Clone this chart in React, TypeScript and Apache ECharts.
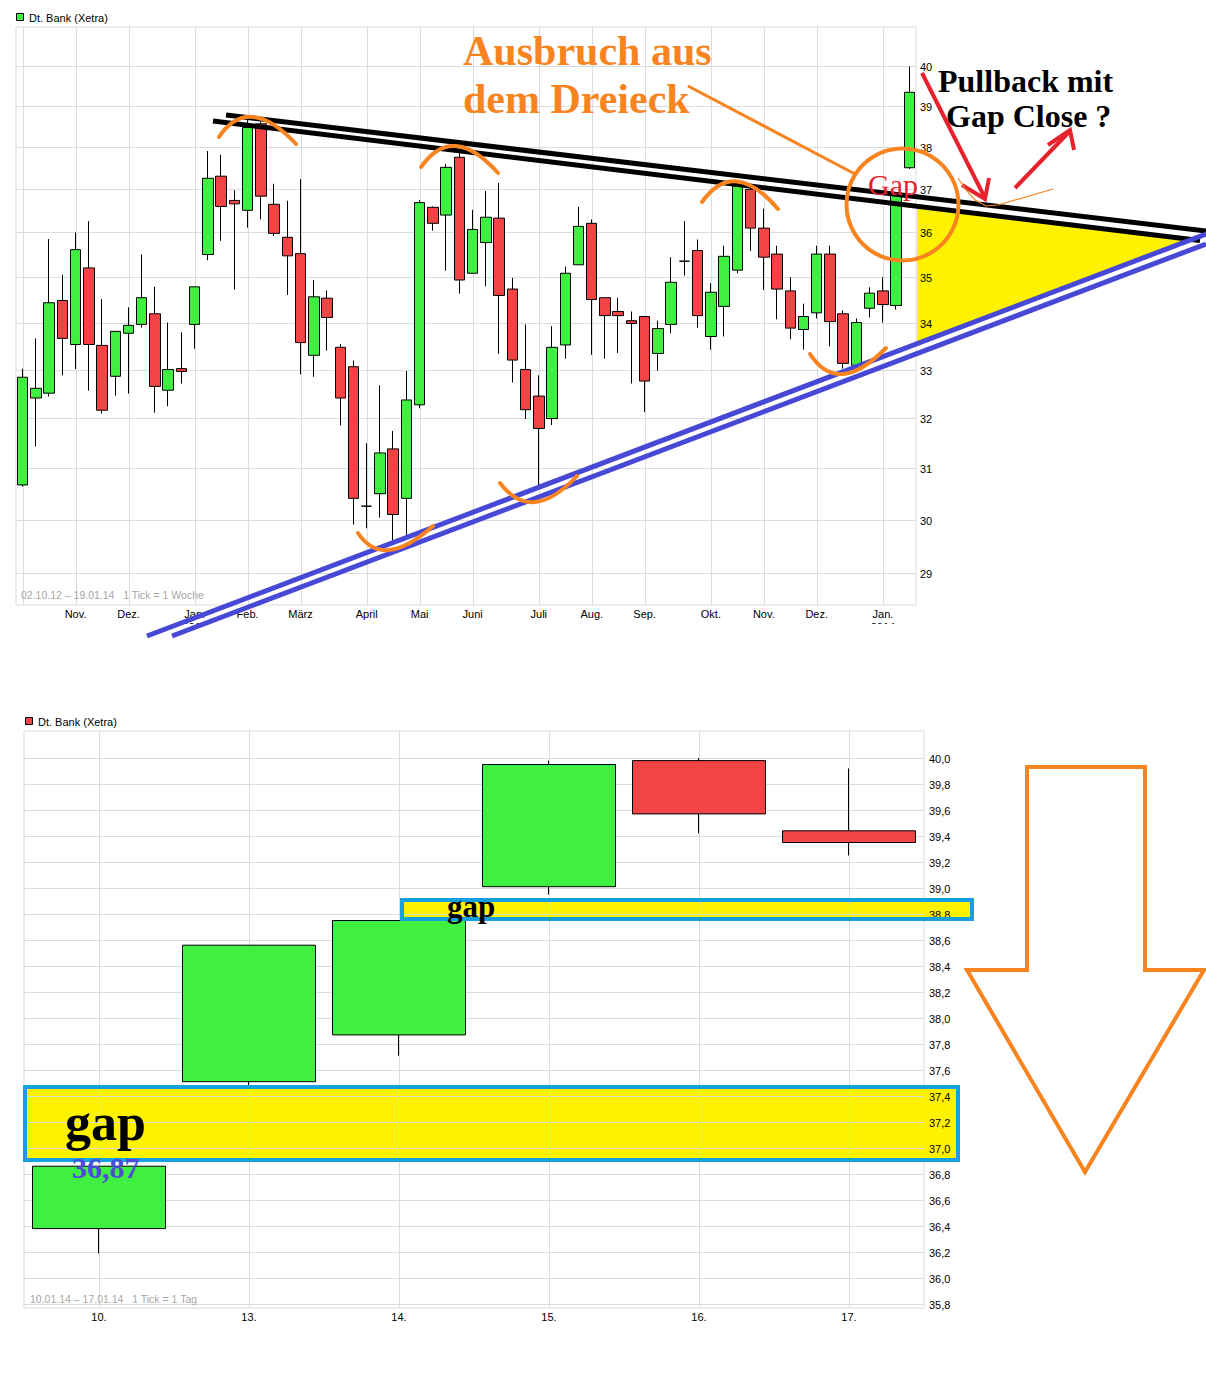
import React, { useEffect, useRef } from 'react';
import * as echarts from 'echarts';

// ---------- Top chart: weekly candles, 02.10.12 – 19.01.14 ----------
const weeklyOpen = [
  30.67, 32.41, 32.51, 34.48, 33.53, 35.2, 33.51, 32.86, 33.77, 33.96,
  34.19, 32.57, 33.02, 33.96, 35.5, 37.31, 36.74, 36.51, 38.57, 36.65,
  35.89, 35.52, 33.3, 34.53, 33.47, 33.06, 30.26, 30.5, 31.38, 30.41,
  32.27, 36.58, 36.4, 37.76, 35.08, 35.77, 36.33, 34.73, 33.0, 32.45,
  31.99, 33.52, 35.27, 36.21, 34.54, 34.24, 34.04, 34.13, 33.34, 33.96,
  35.35, 35.59, 33.7, 34.35, 35.15, 37.0, 36.1, 35.51, 34.69, 33.85,
  34.21, 35.51, 34.19, 33.09, 34.31, 34.69, 34.37, 37.51,
];
const weeklyClose = [
  32.84, 32.61, 34.43, 33.66, 35.61, 33.53, 32.16, 33.81, 33.94, 34.54,
  32.65, 33.0, 32.96, 34.78, 37.26, 36.6, 36.66, 38.48, 36.84, 35.98,
  35.47, 33.57, 34.56, 34.11, 32.41, 30.41, 30.26, 31.3, 30.1, 32.37,
  36.69, 36.21, 37.52, 34.93, 36.07, 36.35, 34.59, 33.2, 32.17, 31.79,
  33.47, 35.08, 36.14, 34.5, 34.15, 34.15, 33.98, 32.76, 33.87, 34.88,
  35.35, 34.15, 34.66, 35.46, 37.08, 36.1, 35.44, 34.73, 33.88, 34.13,
  35.51, 34.02, 33.13, 34.0, 34.64, 34.39, 36.87, 39.35,
];
const weeklyLow = [
  30.64, 31.43, 32.44, 32.88, 33.01, 32.56, 32.09, 32.46, 32.5, 33.89,
  32.11, 32.24, 32.71, 33.44, 35.37, 35.81, 34.72, 36.11, 36.3, 35.92,
  34.6, 32.9, 32.85, 33.4, 31.85, 29.91, 29.84, 30.04, 29.6, 29.69,
  32.2, 36.04, 35.14, 34.63, 35.08, 34.79, 33.33, 32.73, 31.98, 30.58,
  31.86, 33.23, 35.27, 33.31, 33.23, 33.35, 32.71, 32.12, 32.98, 33.77,
  35.03, 33.89, 33.42, 33.7, 35.08, 35.58, 34.71, 34.07, 33.64, 33.42,
  34.09, 33.49, 33.02, 33.05, 34.11, 34.0, 34.28, 37.48,
];
const weeklyHigh = [
  33.02, 33.66, 35.85, 35.05, 36.0, 36.26, 34.51, 33.81, 34.33, 35.5,
  34.78, 34.0, 33.79, 34.78, 37.91, 37.82, 36.98, 38.66, 38.62, 37.13,
  36.73, 37.24, 34.93, 34.7, 33.54, 33.19, 31.49, 32.67, 31.74, 32.97,
  36.75, 36.6, 37.6, 37.9, 36.52, 36.96, 37.15, 34.98, 33.96, 32.88,
  33.92, 35.23, 36.59, 36.3, 34.54, 34.54, 34.24, 34.13, 34.04, 35.44,
  36.26, 35.84, 34.86, 35.7, 37.15, 37.05, 36.55, 35.7, 34.99, 34.41,
  35.7, 35.7, 34.26, 34.09, 34.77, 34.99, 36.9, 40.0,
];
const monthTickWeeks = [0, 4, 8, 13, 17, 21, 26, 30, 34, 39, 43, 47, 52, 56, 60, 65];
const monthTickLabels = ['', 'Nov.', 'Dez.', 'Jan.\n2013', 'Feb.', 'März', 'April', 'Mai', 'Juni', 'Juli', 'Aug.', 'Sep.', 'Okt.', 'Nov.', 'Dez.', 'Jan.\n2014'];
const topPriceTicks = [29, 30, 31, 32, 33, 34, 35, 36, 37, 38, 39, 40];

// ---------- Bottom chart: daily candles, 10.01.14 – 17.01.14 ----------
const dayLabels = ['10.', '13.', '14.', '15.', '16.', '17.'];
const dailyOpen = [36.38, 37.51, 37.87, 39.01, 39.98, 39.44];
const dailyClose = [36.86, 38.56, 38.75, 39.95, 39.57, 39.35];
const dailyLow = [36.19, 37.48, 37.71, 38.95, 39.42, 39.25];
const dailyHigh = [36.86, 38.56, 38.75, 39.98, 40.0, 39.92];
const bottomPriceTicks = [35.8, 36.0, 36.2, 36.4, 36.6, 36.8, 37.0, 37.2, 37.4, 37.6, 37.8, 38.0, 38.2, 38.4, 38.6, 38.8, 39.0, 39.2, 39.4, 39.6, 39.8, 40.0];

const GREEN = '#40f040';
const RED = '#f24444';
const GRID_LINE = '#dcdcdc';
const ORANGE = '#f7841f';
const BLUE_LINE = '#4848d6';
const BOX_BLUE = '#16a0e2';
const YELLOW = '#fff200';
const ARROW_RED = '#e8222c';
const SANS = '"Liberation Sans", Arial, sans-serif';
const SERIF = '"Liberation Serif", "Times New Roman", serif';

const pad = (n: number) => (n < 10 ? '0' + n : '' + n);
const weekCats = weeklyOpen.map((_, i) => {
  const d = new Date(Date.UTC(2012, 9, 1 + 7 * i));
  return `${pad(d.getUTCDate())}.${pad(d.getUTCMonth() + 1)}.${String(d.getUTCFullYear()).slice(2)}`;
});

const topCandles = weeklyOpen.map((o, i) => [
  Math.log(o), Math.log(weeklyClose[i]), Math.log(weeklyLow[i]), Math.log(weeklyHigh[i]),
]);
const bottomCandles = dailyOpen.map((o, i) => [o, dailyClose[i], dailyLow[i], dailyHigh[i]]);

const hGridRender = (labels: string[], gap: number) => (params: any, api: any) => {
  const cs = params.coordSys;
  const y = Math.round(api.coord([0, api.value(1)])[1]) + 0.5;
  return {
    type: 'group',
    children: [
      { type: 'line', silent: true, shape: { x1: cs.x, y1: y, x2: cs.x + cs.width, y2: y }, style: { stroke: GRID_LINE, lineWidth: 1 } },
      { type: 'text', silent: true, x: cs.x + cs.width + gap, y, style: { text: labels[params.dataIndex], fill: '#000', font: `11px ${SANS}`, align: 'left', verticalAlign: 'middle' } },
    ],
  };
};
const vGridRender = (params: any, api: any) => {
  const cs = params.coordSys;
  const x = Math.round(api.coord([api.value(0), api.value(1)])[0]) + 0.5;
  return { type: 'line', silent: true, shape: { x1: x, y1: cs.y, x2: x, y2: cs.y + cs.height }, style: { stroke: GRID_LINE, lineWidth: 1 } };
};

const qArc = (p0: number[], m: number[], p2: number[]) => ({
  type: 'bezierCurve', z: 100, silent: true,
  shape: { x1: p0[0], y1: p0[1], x2: p2[0], y2: p2[1], cpx1: 2 * m[0] - (p0[0] + p2[0]) / 2, cpy1: 2 * m[1] - (p0[1] + p2[1]) / 2 },
  style: { stroke: ORANGE, lineWidth: 4, fill: 'none', lineCap: 'round' },
});
const seg = (x1: number, y1: number, x2: number, y2: number, stroke: string, lineWidth: number, z = 100) => ({
  type: 'line', z, silent: true, shape: { x1, y1, x2, y2 }, style: { stroke, lineWidth, lineCap: 'butt' },
});
const txt = (text: string, x: number, y: number, font: string, fill: string, z = 110) => ({
  type: 'text', z, silent: true, x, y, style: { text, font, fill, align: 'left', verticalAlign: 'middle' },
});

const option: any = {
  animation: false,
  backgroundColor: '#fff',
  grid: [
    { left: 16, top: 27, width: 900, height: 578, show: true, borderColor: GRID_LINE, borderWidth: 1, backgroundColor: 'transparent' },
    { left: 24, top: 731, width: 900, height: 577, show: true, borderColor: GRID_LINE, borderWidth: 1, backgroundColor: 'transparent' },
  ],
  xAxis: [
    {
      type: 'category', gridIndex: 0, data: weekCats, boundaryGap: true,
      axisLine: { show: false }, axisTick: { show: false }, splitLine: { show: false },
      axisLabel: {
        interval: (idx: number) => monthTickWeeks.indexOf(idx) >= 0,
        formatter: (_v: string, idx: number) => {
          const k = monthTickWeeks.indexOf(idx);
          return k >= 0 ? monthTickLabels[k] : '';
        },
        color: '#000', fontFamily: SANS, fontSize: 11, margin: 2, lineHeight: 13,
      },
    },
    {
      type: 'category', gridIndex: 1, data: dayLabels, boundaryGap: true,
      axisLine: { show: false }, axisTick: { show: false }, splitLine: { show: false },
      axisLabel: { color: '#000', fontFamily: SANS, fontSize: 11, margin: 3 },
    },
  ],
  yAxis: [
    {
      type: 'value', gridIndex: 0, min: Math.log(28.42), max: Math.log(41.015),
      axisLine: { show: false }, axisTick: { show: false }, axisLabel: { show: false }, splitLine: { show: false },
    },
    {
      type: 'value', gridIndex: 1, min: 35.8 - 4 / 130, max: 40 + 27 / 130,
      axisLine: { show: false }, axisTick: { show: false }, axisLabel: { show: false }, splitLine: { show: false },
    },
  ],
  series: [
    {
      type: 'custom', xAxisIndex: 0, yAxisIndex: 0, z: 1, silent: true,
      data: topPriceTicks.map((p) => [0, Math.log(p)]),
      renderItem: hGridRender(topPriceTicks.map((p) => String(p)), 4),
    },
    {
      type: 'custom', xAxisIndex: 0, yAxisIndex: 0, z: 1, silent: true,
      data: monthTickWeeks.map((w) => [w, Math.log(35)]),
      renderItem: vGridRender,
    },
    {
      type: 'candlestick', name: 'Dt. Bank (Xetra)', xAxisIndex: 0, yAxisIndex: 0, z: 2,
      data: topCandles, barWidth: 11,
      itemStyle: { color: GREEN, color0: RED, borderColor: '#000', borderColor0: '#000', borderWidth: 1 },
    },
    {
      type: 'custom', xAxisIndex: 1, yAxisIndex: 1, z: 1, silent: true,
      data: bottomPriceTicks.map((p) => [0, p]),
      renderItem: hGridRender(bottomPriceTicks.map((p) => p.toFixed(1).replace('.', ',')), 5),
    },
    {
      type: 'custom', xAxisIndex: 1, yAxisIndex: 1, z: 1, silent: true,
      data: dayLabels.map((_, i) => [i, 38]),
      renderItem: vGridRender,
    },
    {
      type: 'candlestick', name: 'Dt. Bank (Xetra) daily', xAxisIndex: 1, yAxisIndex: 1, z: 2,
      data: bottomCandles, barWidth: 133,
      itemStyle: { color: GREEN, color0: RED, borderColor: '#000', borderColor0: '#000', borderWidth: 1 },
    },
  ],
  graphic: [
    // yellow areas (beneath grid lines and labels)
    { type: 'polygon', z: 0, silent: true, shape: { points: [[917, 206], [1193, 240], [917, 343]] }, style: { fill: YELLOW } },
    { type: 'rect', z: 0, silent: true, shape: { x: 25, y: 1087, width: 933, height: 73 }, style: { fill: YELLOW } },
    { type: 'rect', z: 0, silent: true, shape: { x: 402, y: 900, width: 570, height: 19 }, style: { fill: YELLOW } },
    // crop of the top screenshot under its axis labels
    { type: 'rect', z: 50, silent: true, shape: { x: 0, y: 624, width: 1206, height: 76 }, style: { fill: '#fff' } },
    // legends and info texts
    { type: 'rect', z: 100, silent: true, shape: { x: 16.5, y: 13.5, width: 7, height: 7 }, style: { fill: GREEN, stroke: '#000', lineWidth: 1 } },
    txt('Dt. Bank (Xetra)', 29, 18, `11px ${SANS}`, '#000'),
    { type: 'rect', z: 100, silent: true, shape: { x: 25.5, y: 717.5, width: 7, height: 7 }, style: { fill: RED, stroke: '#000', lineWidth: 1 } },
    txt('Dt. Bank (Xetra)', 38, 722, `11px ${SANS}`, '#000'),
    txt('02.10.12 – 19.01.14   1 Tick = 1 Woche', 21, 595, `10.5px ${SANS}`, '#a6a6a6'),
    txt('10.01.14 – 17.01.14   1 Tick = 1 Tag', 30, 1299, `10.5px ${SANS}`, '#a6a6a6'),
    // triangle lines
    seg(226, 115, 1206, 231, '#000', 5),
    seg(213, 121, 1200, 240.5, '#000', 5),
    seg(147, 636, 1206, 234, BLUE_LINE, 5),
    seg(172, 636, 1206, 244, BLUE_LINE, 5),
    // orange arcs
    qArc([219, 137], [253, 117], [296, 144]),
    qArc([421, 167], [456, 146], [498, 173]),
    qArc([702, 202], [737, 181.5], [778, 209]),
    qArc([358, 533], [389, 550], [433, 526]),
    qArc([500, 483], [535, 502], [577, 476]),
    qArc([810, 354], [843, 374], [886, 348]),
    // breakout pointer and circle
    seg(688, 86, 855, 174, ORANGE, 3),
    { type: 'circle', z: 100, silent: true, shape: { cx: 902.5, cy: 204.5, r: 56 }, style: { fill: 'none', stroke: ORANGE, lineWidth: 4 } },
    // red arrows
    seg(922, 73, 985, 198, ARROW_RED, 4),
    { type: 'polyline', z: 100, silent: true, shape: { points: [[962, 185], [985, 199], [989, 178]] }, style: { stroke: ARROW_RED, lineWidth: 4, fill: 'none' } },
    seg(1015, 188, 1069, 132, ARROW_RED, 4),
    { type: 'polyline', z: 100, silent: true, shape: { points: [[1048, 145], [1070, 130], [1074, 150]] }, style: { stroke: ARROW_RED, lineWidth: 4, fill: 'none' } },
    { type: 'polyline', z: 100, silent: true, shape: { points: [[958, 178], [966, 190], [975, 200], [986, 206], [998, 205], [1053, 189]] }, style: { stroke: ORANGE, lineWidth: 1.2, fill: 'none' } },
    // top annotation texts
    txt('Ausbruch aus', 463, 51, `bold 42px ${SERIF}`, ORANGE),
    txt('dem Dreieck', 463, 99, `bold 42px ${SERIF}`, ORANGE),
    txt('Pullback mit', 938, 81, `bold 32px ${SERIF}`, '#000'),
    txt('Gap Close ?', 946, 116, `bold 32px ${SERIF}`, '#000'),
    txt('Gap', 868, 184, `30px ${SERIF}`, ARROW_RED),
    // bottom gap boxes
    { type: 'rect', z: 100, silent: true, shape: { x: 25, y: 1087, width: 933, height: 73 }, style: { fill: 'none', stroke: BOX_BLUE, lineWidth: 4 } },
    { type: 'rect', z: 100, silent: true, shape: { x: 402, y: 900, width: 570, height: 19 }, style: { fill: 'none', stroke: BOX_BLUE, lineWidth: 4 } },
    txt('gap', 65, 1122, `bold 52px ${SERIF}`, '#000'),
    txt('36,87', 72, 1167, `bold 30px ${SERIF}`, '#4c4cdc'),
    txt('gap', 447, 906, `bold 31px ${SERIF}`, '#000'),
    // big down arrow
    {
      type: 'polygon', z: 100, silent: true,
      shape: { points: [[1027, 767], [1145, 767], [1145, 970], [1204, 970], [1085, 1172], [967, 970], [1027, 970]] },
      style: { fill: 'none', stroke: ORANGE, lineWidth: 4, lineJoin: 'miter' },
    },
  ],
};

export default function App() {
  const ref = useRef<HTMLDivElement>(null);
  useEffect(() => {
    if (!ref.current) return;
    const chart = echarts.init(ref.current, null, { renderer: 'svg' });
    chart.setOption(option);
    return () => chart.dispose();
  }, []);
  return (
    <div
      ref={ref}
      style={{ position: 'absolute', left: 0, top: 0, width: 1206, height: 1374, background: '#fff' }}
    />
  );
}
